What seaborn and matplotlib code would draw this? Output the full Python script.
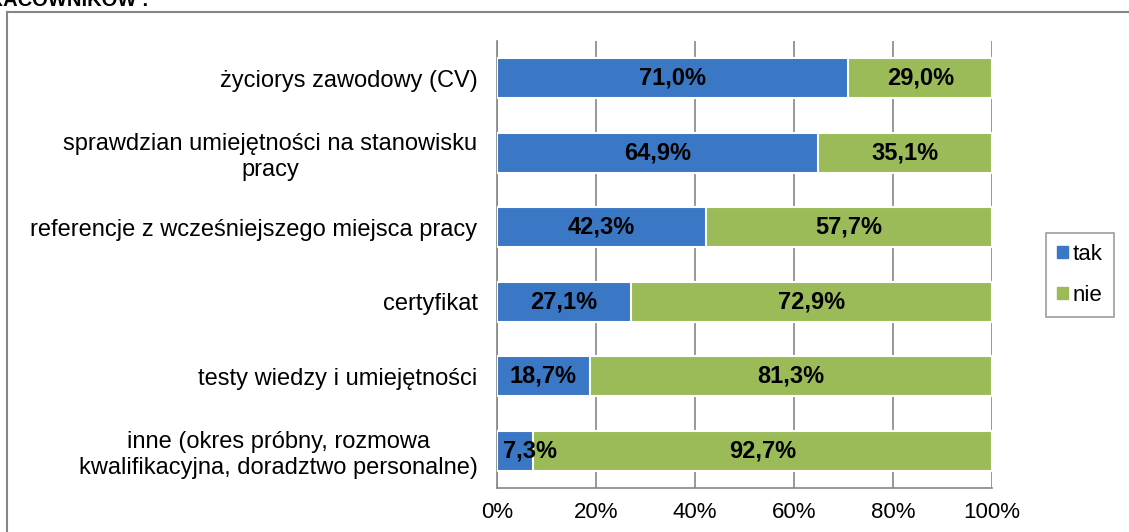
import pandas as pd
import seaborn as sns
import matplotlib.pyplot as plt
from matplotlib.patches import Rectangle, Patch
from matplotlib.ticker import MultipleLocator, PercentFormatter

categories = [
    "życiorys zawodowy (CV)",
    "sprawdzian umiejętności na stanowisku\npracy",
    "referencje z wcześniejszego miejsca pracy",
    "certyfikat",
    "testy wiedzy i umiejętności",
    "inne (okres próbny, rozmowa\nkwalifikacyjna, doradztwo personalne)",
]
tak = [71.0, 64.9, 42.3, 27.1, 18.7, 7.3]
nie = [29.0, 35.1, 57.7, 72.9, 81.3, 92.7]

BLUE = "#3a77c4"
GREEN = "#9bbb59"
GRAY = "#868686"

df = pd.DataFrame({"kategoria": categories, "tak": tak, "nie": nie})
df["suma"] = df["tak"] + df["nie"]

sns.set_style("white")
plt.rcParams["font.family"] = ["Liberation Sans", "DejaVu Sans"]
plt.rcParams["text.color"] = "black"

fig = plt.figure(figsize=(11.29, 5.32), dpi=100)
ax = fig.add_axes([497 / 1129, 44 / 532, 495 / 1129, 447 / 532])

# stacked bars: full bar in green, "tak" part in blue on top
sns.barplot(data=df, y="kategoria", x="suma", color=GREEN, orient="h", saturation=1,
            width=0.54, edgecolor="white", linewidth=1.5, ax=ax, zorder=3)
sns.barplot(data=df, y="kategoria", x="tak", color=BLUE, orient="h", saturation=1,
            width=0.54, edgecolor="white", linewidth=1.5, ax=ax, zorder=4)

for i, row in df.iterrows():
    tak_txt = f"{row['tak']:.1f}%".replace(".", ",")
    if row["tak"] < 12:
        # too narrow, keep the label inside the plot
        ax.text(1.2, i, tak_txt, ha="left", va="center", fontsize=17,
                fontweight="bold", color="black", zorder=5)
    else:
        ax.text(row["tak"] / 2, i, tak_txt, ha="center", va="center", fontsize=17,
                fontweight="bold", color="black", zorder=5)
    ax.text(row["tak"] + row["nie"] / 2, i, f"{row['nie']:.1f}%".replace(".", ","),
            ha="center", va="center", fontsize=17, fontweight="bold", color="black", zorder=5)

ax.set_xlim(0, 100)
ax.set_ylim(len(categories) - 0.5, -0.5)
ax.xaxis.set_major_locator(MultipleLocator(20))
ax.xaxis.set_major_formatter(PercentFormatter(decimals=0))
ax.grid(axis="x", color=GRAY, linewidth=1.2, zorder=0)
ax.set_xlabel("")
ax.set_ylabel("")

for side in ["top", "right"]:
    ax.spines[side].set_visible(False)
for side in ["left", "bottom"]:
    ax.spines[side].set_color(GRAY)
    ax.spines[side].set_linewidth(1.2)

# ticks between categories on y axis
ax.set_yticks(range(len(categories)))
ax.set_yticklabels(categories, multialignment="center")
ax.set_yticks([i - 0.5 for i in range(len(categories) + 1)], minor=True)
ax.tick_params(axis="y", which="major", length=0, pad=14, labelsize=17, labelcolor="black")
ax.tick_params(axis="y", which="minor", length=5, color=GRAY, width=1.2, direction="out")
ax.tick_params(axis="x", length=5, color=GRAY, width=1.2, direction="out",
               labelsize=16, pad=5, labelcolor="black")

handles = [Patch(color=BLUE, label="tak"), Patch(color=GREEN, label="nie")]
leg = fig.legend(handles=handles, loc="center", bbox_to_anchor=(1080 / 1129, 1 - 275 / 532),
                 frameon=True, fancybox=False, edgecolor=GRAY, fontsize=16,
                 handlelength=0.5, handleheight=0.5, handletextpad=0.2,
                 labelspacing=0.9, borderpad=0.5)
leg.get_frame().set_linewidth(1.2)
for t in leg.get_texts():
    t.set_color("black")

# chart border and clipped title
fig.add_artist(Rectangle((7 / 1129, -0.1), 1.2, 1.1 - 12 / 532, transform=fig.transFigure,
                         fill=False, edgecolor=GRAY, linewidth=1.5))
fig.text(149 / 1129, 1 - 6 / 532, "PRACOWNIKÓW :", fontsize=14.5, fontweight="bold",
         va="baseline", ha="right")

fig.savefig("out.png", dpi=100)
